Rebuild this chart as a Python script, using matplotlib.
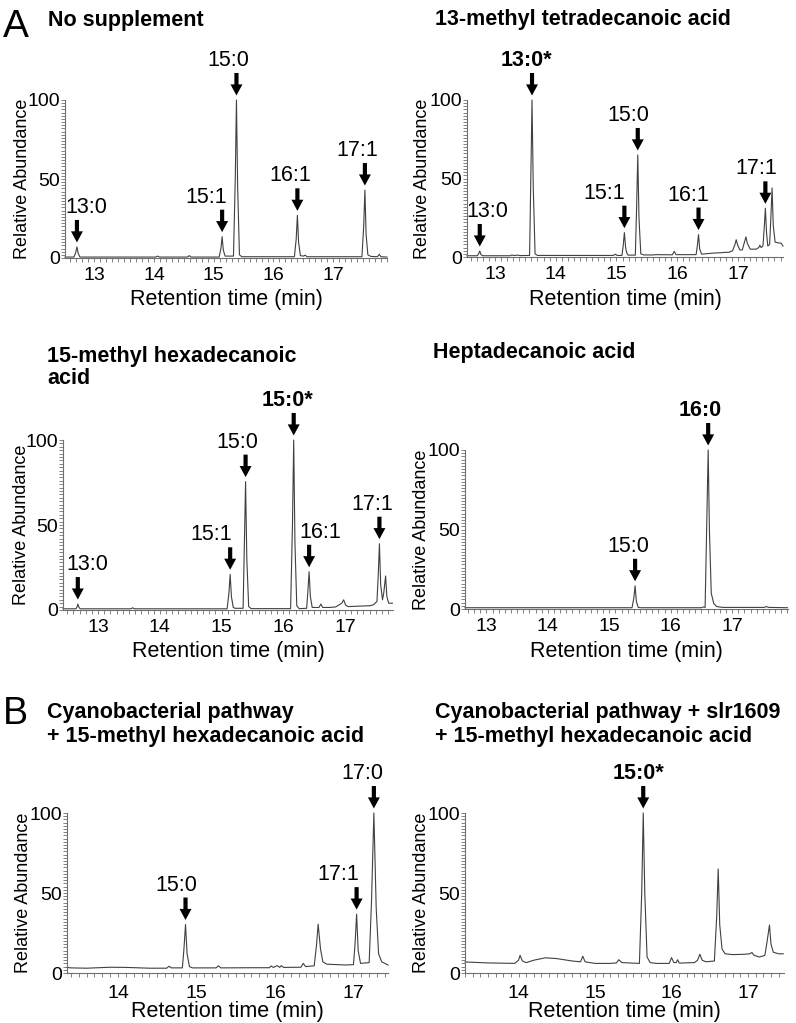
import matplotlib
matplotlib.use('Agg')
import matplotlib.pyplot as plt
from matplotlib.ticker import MultipleLocator

plt.rcParams['font.family'] = ['Liberation Sans', 'DejaVu Sans']

W, H = 796, 1023
DPI = 100
PX2PT = 72.0 / DPI

# ---------------- data (retention time in min, relative abundance) ----------------
# Panel A1: No supplement
nosupp_t = [12.51, 12.66, 12.69, 12.71, 12.73, 12.76, 14.03, 14.06, 14.09, 14.56, 14.59, 14.62,
            15.09, 15.12, 15.14, 15.16, 15.19, 15.33, 15.36, 15.38, 15.40, 15.43, 15.47,
            16.35, 16.38, 16.40, 16.42, 16.45, 16.50, 16.53, 16.56,
            17.48, 17.51, 17.53, 17.55, 17.58, 17.63, 17.74, 17.77, 17.80, 17.90]
nosupp_y = [0.6, 0.6, 3.5, 7.0, 3.0, 0.6, 0.6, 1.2, 0.6, 0.6, 1.5, 0.6,
            0.6, 6.0, 13.5, 5.0, 1.2, 1.2, 50.0, 100.0, 45.0, 2.0, 0.8,
            0.8, 12.0, 27.0, 10.0, 1.5, 1.2, 1.8, 0.8,
            0.8, 20.0, 43.0, 15.0, 2.0, 1.0, 0.8, 2.3, 0.8, 0.6]
nosupp_labels = ['13:0', '15:1', '15:0', '16:1', '17:1']
nosupp_label_t = [12.71, 15.14, 15.38, 16.40, 17.53]
nosupp_label_y = [7.0, 13.5, 100.0, 27.0, 43.0]
nosupp_label_bold = [False, False, False, False, False]

# Panel A2: 13-methyl tetradecanoic acid
m13_t = [12.54, 12.71, 12.73, 12.75, 12.77, 12.80, 13.25, 13.28, 13.31, 13.38, 13.41,
         13.57, 13.59, 13.61, 13.63, 13.66, 13.70, 14.95, 14.98, 15.01,
         15.09, 15.11, 15.13, 15.15, 15.17, 15.19, 15.31, 15.33, 15.35, 15.37, 15.40, 15.45,
         15.60, 15.65, 15.92, 15.95, 15.98, 16.31, 16.33, 16.35, 16.37, 16.40,
         16.60, 16.75, 16.80, 16.85, 16.91, 16.95, 16.97, 16.99, 17.03, 17.07, 17.11, 17.13,
         17.15, 17.20, 17.30, 17.34, 17.36, 17.38, 17.41, 17.43, 17.45, 17.47, 17.49, 17.52,
         17.54, 17.56, 17.58, 17.61, 17.66, 17.71, 17.74]
m13_y = [0.8, 0.8, 2.0, 3.8, 1.5, 0.8, 0.8, 1.3, 0.9, 1.2, 0.9,
         1.0, 50.0, 100.0, 45.0, 2.0, 1.0, 1.0, 1.8, 1.0,
         1.0, 7.0, 15.5, 6.0, 2.5, 1.2, 1.2, 30.0, 65.0, 25.0, 2.0, 1.3,
         1.3, 1.5, 1.4, 3.6, 1.5, 1.5, 7.0, 14.3, 5.0, 1.8,
         2.5, 2.8, 3.0, 3.0, 4.0, 8.0, 11.0, 8.0, 4.5, 4.5, 10.0, 12.8,
         9.0, 5.0, 5.0, 6.0, 7.5, 6.0, 7.0, 18.0, 31.0, 15.0, 7.0, 8.0,
         25.0, 44.0, 20.0, 9.5, 9.0, 8.8, 7.0]
m13_labels = ['13:0', '13:0*', '15:1', '15:0', '16:1', '17:1']
m13_label_t = [12.75, 13.61, 15.13, 15.35, 16.35, 17.45]
m13_label_y = [3.8, 100.0, 15.5, 65.0, 14.3, 31.0]
m13_label_bold = [False, True, False, False, False, False]

# Panel A3: 15-methyl hexadecanoic acid
m15_t = [12.43, 12.64, 12.66, 12.67, 12.69, 12.71, 13.53, 13.56, 13.59,
         15.09, 15.12, 15.14, 15.16, 15.19, 15.22, 15.35, 15.37, 15.39, 15.41, 15.44, 15.48,
         16.12, 16.15, 16.17, 16.19, 16.22, 16.26, 16.38, 16.40, 16.42, 16.44, 16.47,
         16.58, 16.61, 16.64, 16.75, 16.85, 16.95, 16.98, 17.01, 17.05, 17.40, 17.46,
         17.52, 17.54, 17.56, 17.58, 17.61, 17.63, 17.66, 17.68, 17.71, 17.77]
m15_y = [0.7, 0.7, 2.0, 3.5, 1.5, 0.7, 0.7, 1.3, 0.7,
         0.7, 10.0, 21.0, 8.0, 1.5, 1.0, 1.0, 38.0, 75.5, 30.0, 2.0, 0.8,
         0.8, 50.0, 100.0, 40.0, 2.5, 0.8, 1.0, 11.0, 22.5, 8.0, 1.5,
         1.5, 3.5, 1.5, 1.5, 1.8, 4.0, 6.0, 3.0, 2.0, 2.5, 3.0,
         5.0, 20.0, 39.0, 15.0, 6.0, 10.0, 20.0, 8.0, 4.0, 4.0]
m15_labels = ['13:0', '15:1', '15:0', '15:0*', '16:1', '17:1']
m15_label_t = [12.67, 15.14, 15.39, 16.17, 16.42, 17.56]
m15_label_y = [3.5, 21.0, 75.5, 100.0, 22.5, 39.0]
m15_label_bold = [False, False, False, True, False, False]

# Panel A4: Heptadecanoic acid
hepta_t = [12.65, 15.37, 15.40, 15.42, 15.44, 15.47, 15.52, 16.50, 16.53, 16.56,
           16.58, 16.61, 16.63, 16.66, 16.70, 16.75, 16.85, 17.52, 17.56, 17.60, 17.90]
hepta_y = [0.8, 0.8, 7.0, 14.6, 5.0, 1.0, 0.8, 0.8, 1.3, 1.0,
           40.0, 100.0, 50.0, 10.0, 3.5, 1.5, 1.0, 1.0, 1.5, 1.0, 0.8]
hepta_labels = ['15:0', '16:0']
hepta_label_t = [15.42, 16.61]
hepta_label_y = [14.6, 100.0]
hepta_label_bold = [False, True]

# Panel B1: Cyanobacterial pathway + 15-methyl hexadecanoic acid
cyan_t = [13.35, 13.40, 13.60, 13.90, 14.10, 14.40, 14.62, 14.65, 14.68, 14.82, 14.84, 14.86,
          14.88, 14.91, 14.95, 15.25, 15.28, 15.31, 15.70, 15.93, 15.95, 15.98, 16.03, 16.06,
          16.08, 16.11, 16.33, 16.36, 16.39, 16.50, 16.53, 16.55, 16.58, 16.61, 16.66, 16.90,
          17.00, 17.02, 17.04, 17.06, 17.09, 17.20, 17.23, 17.26, 17.29, 17.32, 17.36, 17.44]
cyan_y = [3.5, 3.2, 3.0, 3.6, 3.5, 3.0, 3.0, 4.2, 3.2, 3.2, 15.0, 30.3,
          12.0, 4.0, 3.2, 3.2, 4.5, 3.2, 3.3, 3.3, 4.4, 3.5, 4.6, 3.5,
          4.6, 3.5, 3.6, 6.0, 4.0, 4.5, 18.0, 30.5, 15.0, 7.0, 5.5, 5.0,
          5.2, 18.0, 36.8, 14.0, 6.0, 6.5, 45.0, 100.0, 40.0, 12.0, 7.0, 5.0]
cyan_labels = ['15:0', '17:1', '17:0']
cyan_label_t = [14.86, 17.04, 17.26]
cyan_label_y = [30.3, 36.8, 100.0]
cyan_label_bold = [False, False, False]

# Panel B2: Cyanobacterial pathway + slr1609 + 15-methyl hexadecanoic acid
slr_t = [13.30, 13.60, 13.95, 14.00, 14.02, 14.05, 14.10, 14.20, 14.35, 14.50, 14.70, 14.81,
         14.84, 14.87, 15.00, 15.20, 15.28, 15.31, 15.35, 15.58, 15.61, 15.63, 15.65, 15.68,
         15.72, 15.80, 15.97, 16.00, 16.03, 16.06, 16.08, 16.10, 16.30, 16.34, 16.37, 16.40,
         16.45, 16.56, 16.59, 16.61, 16.63, 16.66, 16.70, 16.80, 16.95, 17.02, 17.05, 17.08,
         17.15, 17.22, 17.25, 17.28, 17.30, 17.33, 17.40, 17.46]
slr_y = [6.9, 6.3, 6.0, 8.0, 11.0, 7.5, 6.5, 8.0, 9.5, 9.0, 7.5, 7.0,
         10.5, 7.0, 6.0, 6.0, 6.3, 8.3, 6.5, 6.0, 50.0, 100.0, 50.0, 10.0,
         6.5, 6.0, 6.0, 9.6, 6.5, 6.5, 8.3, 6.2, 6.5, 8.0, 11.7, 8.0,
         7.0, 7.5, 35.0, 65.0, 30.0, 15.0, 12.0, 11.5, 11.7, 12.0, 12.8, 11.0,
         10.0, 11.0, 20.0, 30.0, 18.0, 13.0, 12.0, 12.0]
slr_labels = ['15:0*']
slr_label_t = [15.63]
slr_label_y = [100.0]
slr_label_bold = [True]

# ---------------- layout (pixels) ----------------
panels = [
    dict(t=nosupp_t, y=nosupp_y, lab=nosupp_labels, lt=nosupp_label_t, ly=nosupp_label_y,
         lb=nosupp_label_bold, dx=[9, -16, -8, -7, -8],
         box=(65, 387, 100, 258), xlim=(12.51, 17.90), title=[('No supplement', 48, 26)],
         tickpad=3.5, xlab_base=305, ylab_x=31),
    dict(t=m13_t, y=m13_y, lab=m13_labels, lt=m13_label_t, ly=m13_label_y,
         lb=m13_label_bold, dx=[8, -6, -20, -9, -10, -9],
         box=(467, 783, 100, 257), xlim=(12.54, 17.74),
         title=[('13-methyl tetradecanoic acid', 435, 25)],
         tickpad=3.5, xlab_base=305, ylab_x=431),
    dict(t=m15_t, y=m15_y, lab=m15_labels, lt=m15_label_t, ly=m15_label_y,
         lb=m15_label_bold, dx=[10, -19, -8, -6, 11, -7],
         box=(63, 393, 440, 610), xlim=(12.43, 17.78),
         title=[('15-methyl hexadecanoic', 47, 362), ('acid', 47, 384)],
         tickpad=3.5, xlab_base=657, ylab_x=30),
    dict(t=hepta_t, y=hepta_y, lab=hepta_labels, lt=hepta_label_t, ly=hepta_label_y,
         lb=hepta_label_bold, dx=[-7, -8],
         box=(465, 788, 450, 609), xlim=(12.65, 17.91),
         title=[('Heptadecanoic acid', 433, 358)],
         tickpad=3.5, xlab_base=657, ylab_x=430),
    dict(t=cyan_t, y=cyan_y, lab=cyan_labels, lt=cyan_label_t, ly=cyan_label_y,
         lb=cyan_label_bold, dx=[-9, -18, -11],
         box=(67, 388, 813, 973), xlim=(13.35, 17.44),
         title=[('Cyanobacterial pathway', 47, 718), ('+ 15-methyl hexadecanoic acid', 47, 742)],
         tickpad=6.0, xlab_base=1017, ylab_x=32),
    dict(t=slr_t, y=slr_y, lab=slr_labels, lt=slr_label_t, ly=slr_label_y,
         lb=slr_label_bold, dx=[-5],
         box=(465, 784, 813, 973), xlim=(13.30, 17.47),
         title=[('Cyanobacterial pathway + slr1609', 435, 718),
                ('+ 15-methyl hexadecanoic acid', 435, 742)],
         tickpad=6.0, xlab_base=1017, ylab_x=430),
]

fig = plt.figure(figsize=(W / DPI, H / DPI), dpi=DPI)

AXC = '#6e6e6e'
LINEC = '#404040'

for p in panels:
    l, r, t, b = p['box']
    ax = fig.add_axes([l / W, 1 - b / H, (r - l) / W, (b - t) / H])
    ax.plot(p['t'], p['y'], color=LINEC, lw=0.8, clip_on=False, solid_joinstyle='round')
    ax.set_xlim(*p['xlim'])
    ax.set_ylim(0, 100)
    for s in ('top', 'right'):
        ax.spines[s].set_visible(False)
    for s in ('left', 'bottom'):
        ax.spines[s].set_color(AXC)
        ax.spines[s].set_linewidth(0.8)
    ax.xaxis.set_major_locator(MultipleLocator(1))
    ax.xaxis.set_minor_locator(MultipleLocator(0.1))
    ax.yaxis.set_major_locator(MultipleLocator(50))
    ax.yaxis.set_minor_locator(MultipleLocator(2))
    ax.tick_params(which='both', direction='out', length=3, width=0.6, color=AXC)
    ax.tick_params(axis='x', labelsize=14, pad=p['tickpad'])
    ax.tick_params(axis='y', labelsize=14, pad=0.5)
    ax.patch.set_alpha(0)

    hpx = b - t
    wpx = r - l
    ax.set_xlabel('Retention time (min)', fontsize=15.5)
    ax.xaxis.label.set_va('baseline')
    ax.xaxis.set_label_coords(0.5, (b - p['xlab_base']) / hpx)
    ax.set_ylabel('Relative Abundance', fontsize=13)
    ax.yaxis.set_label_coords((p['ylab_x'] - l) / wpx, 0.5)

    for name, tt, yy, bold, dx in zip(p['lab'], p['lt'], p['ly'], p['lb'], p['dx']):
        ax.annotate('', xy=(tt, yy), xycoords='data',
                    xytext=(0, 27 * PX2PT), textcoords='offset points',
                    arrowprops=dict(arrowstyle='simple,head_length=0.8,head_width=0.86,tail_width=0.3',
                                    mutation_scale=10, fc='black', ec='black', lw=0,
                                    shrinkA=0, shrinkB=4.5 * PX2PT),
                    annotation_clip=False)
        ax.annotate(name, xy=(tt, yy), xycoords='data',
                    xytext=(dx * PX2PT, 34 * PX2PT), textcoords='offset points',
                    ha='center', va='baseline', fontsize=15.5,
                    fontweight='bold' if bold else 'normal', annotation_clip=False)

    for text, x, yb in p['title']:
        fig.text(x / W, 1 - yb / H, text, fontsize=15.5, fontweight='bold',
                 ha='left', va='baseline')

fig.text(3 / W, 1 - 37 / H, 'A', fontsize=28, ha='left', va='baseline')
fig.text(3 / W, 1 - 724 / H, 'B', fontsize=27, ha='left', va='baseline')

fig.savefig('out.png', dpi=DPI)
